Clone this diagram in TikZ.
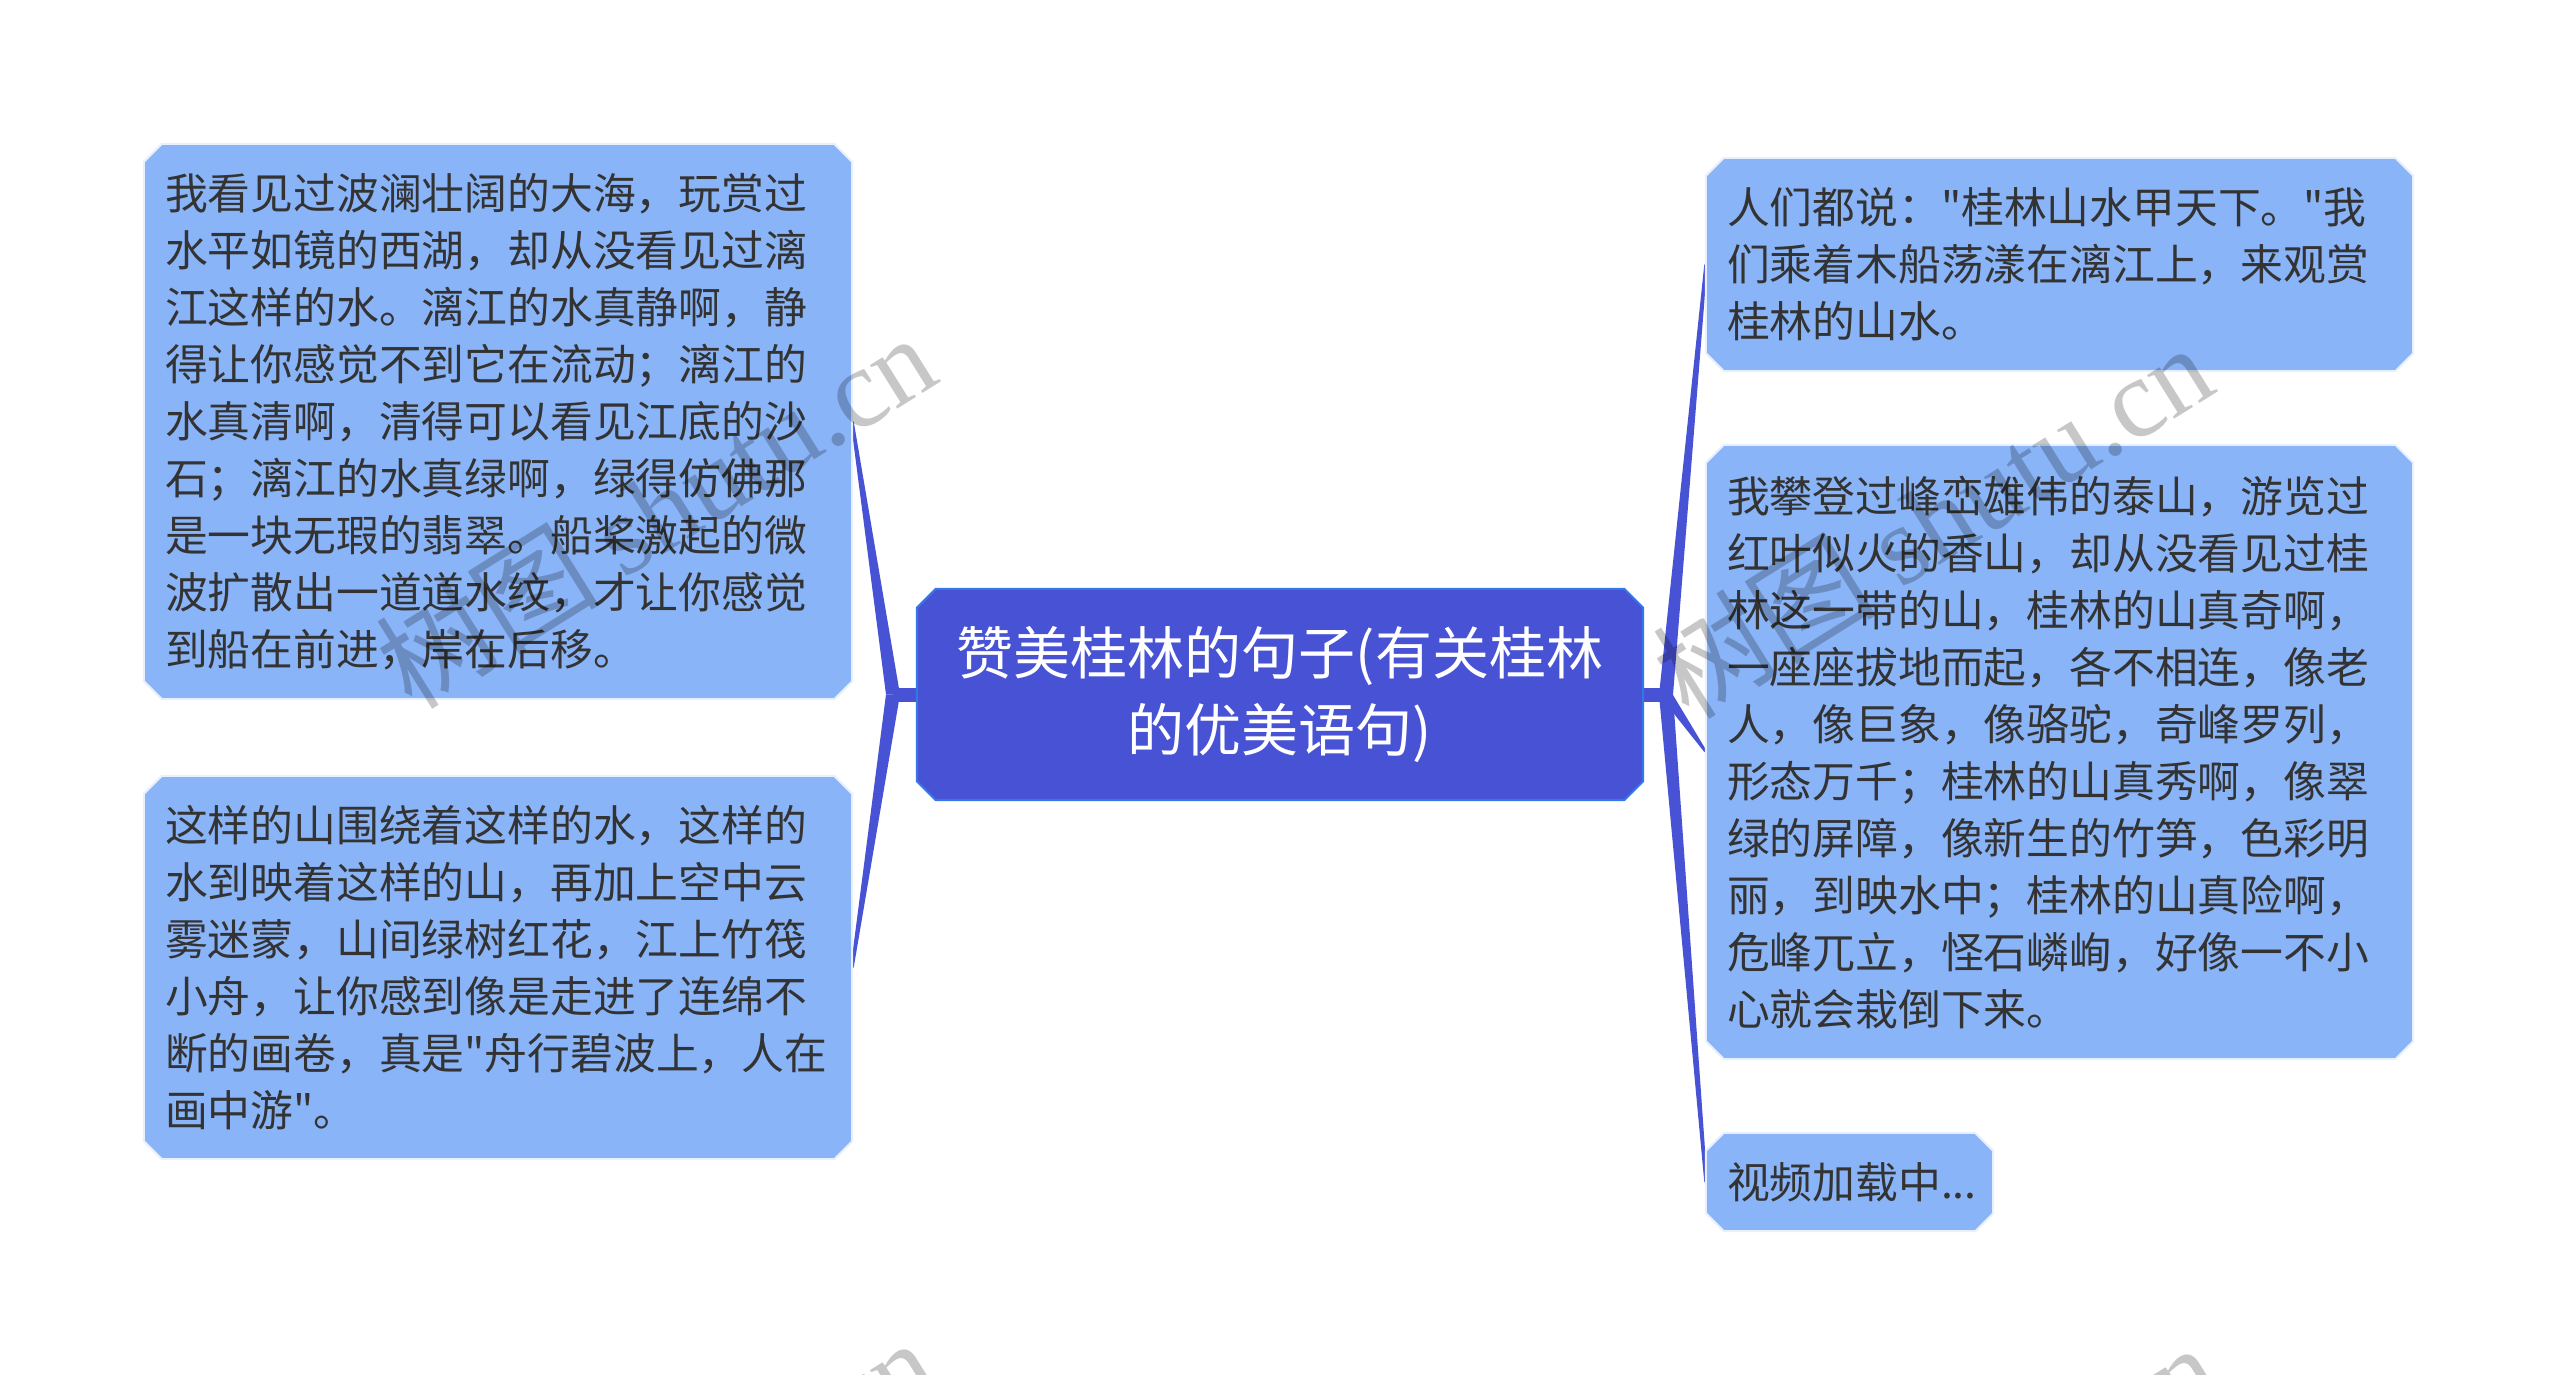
\documentclass[tikz,border=0pt]{standalone}
\usepackage{fontspec}
\newfontfamily\cjk{Noto Sans CJK SC}
\newfontfamily\wmserif{Liberation Serif}
\usetikzlibrary{calc,backgrounds}
\definecolor{hubfill}{RGB}{71,82,213}
\definecolor{hubline}{RGB}{52,120,232}
\definecolor{leaffill}{RGB}{138,180,248}
\definecolor{leafline}{RGB}{232,240,254}
\definecolor{txt}{RGB}{51,51,51}
\tikzset{
  hubbox/.style={rectangle, inner sep=0pt, text=white, align=center,
    font={\cjk\fontsize{57}{77}\selectfont}},
  leafbox/.style={rectangle, inner sep=0pt, text=txt, align=left,
    font={\cjk\fontsize{42.8}{57}\selectfont}},
  hubshape/.style={fill=hubfill, draw=hubline, line width=2pt},
  leafshape/.style={fill=leaffill, draw=leafline, line width=2pt},
  conn/.style={fill=hubfill},
  wm/.style={rotate=32, text=black, opacity=0.22, inner sep=0pt,
    font={\cjk\fontsize{112}{112}\selectfont}}
}
% chamfered outline around a named node: #1 style, #2 node name, #3 chamfer
\newcommand\chbox[3]{%
  \path[#1] ($(#2.north west)+(#3,0)$) -- ($(#2.north east)+(-#3,0)$)
    -- ($(#2.north east)+(0,#3)$) -- ($(#2.south east)+(0,-#3)$)
    -- ($(#2.south east)+(-#3,0)$) -- ($(#2.south west)+(#3,0)$)
    -- ($(#2.south west)+(0,-#3)$) -- ($(#2.north west)+(0,#3)$) -- cycle;}
\begin{document}
\begin{tikzpicture}[x=1pt,y=-1pt]
\useasboundingbox (0,0) rectangle (2560,1375);

% junction points
\coordinate (JL) at (893,694.5);
\coordinate (JR) at (1666,695);

% central topic
\node[hubbox, minimum width=726pt, minimum height=211pt] (hub) at (1280,694.5)
  {赞美桂林的句子(有关桂林\\的优美语句)};

% leaves
\node[leafbox, minimum width=708pt, minimum height=555pt, text width=666pt] (lt) at (498,421.5)
  {我看见过波澜壮阔的大海，玩赏过\\水平如镜的西湖，却从没看见过漓\\江这样的水。漓江的水真静啊，静\\得让你感觉不到它在流动；漓江的\\水真清啊，清得可以看见江底的沙\\石；漓江的水真绿啊，绿得仿佛那\\是一块无瑕的翡翠。船桨激起的微\\波扩散出一道道水纹，才让你感觉\\到船在前进，岸在后移。};
\node[leafbox, minimum width=708pt, minimum height=383pt, text width=666pt] (lb) at (498,967.5)
  {这样的山围绕着这样的水，这样的\\水到映着这样的山，再加上空中云\\雾迷蒙，山间绿树红花，江上竹筏\\小舟，让你感到像是走进了连绵不\\断的画卷，真是"舟行碧波上，人在\\画中游"。};
\node[leafbox, minimum width=707pt, minimum height=213pt, text width=665pt] (rt) at (2059.5,264.5)
  {人们都说："桂林山水甲天下。"我\\们乘着木船荡漾在漓江上，来观赏\\桂林的山水。};
\node[leafbox, minimum width=707pt, minimum height=614pt, text width=665pt] (rm) at (2059.5,752)
  {我攀登过峰峦雄伟的泰山，游览过\\红叶似火的香山，却从没看见过桂\\林这一带的山，桂林的山真奇啊，\\一座座拔地而起，各不相连，像老\\人，像巨象，像骆驼，奇峰罗列，\\形态万千；桂林的山真秀啊，像翠\\绿的屏障，像新生的竹笋，色彩明\\丽，到映水中；桂林的山真险啊，\\危峰兀立，怪石嶙峋，好像一不小\\心就会栽倒下来。};
\node[leafbox, minimum width=287pt, minimum height=98pt, text width=245pt] (rb) at (1849.5,1182)
  {视频加载中...};

\begin{scope}[on background layer]
  % connectors
  \fill[conn] ($(JL)+(0,-7)$) rectangle ($(hub.west)+(2,7)$);
  \fill[conn] ($(JR)+(0,-7)$) rectangle ($(hub.east)+(-2,7)$);
  \foreach \n in {lt,lb}{
    \fill[conn] ($(JL)+(7,0)$) -- ($(\n.east)+(1.5,0)$) -- ($(\n.east)+(-1.5,0)$) -- ($(JL)+(-7,0)$) -- cycle;
  }
  \foreach \n in {rt,rm,rb}{
    \fill[conn] ($(JR)+(7,0)$) -- ($(\n.west)+(1.5,0)$) -- ($(\n.west)+(-1.5,0)$) -- ($(JR)+(-7,0)$) -- cycle;
  }
  % box shapes
  \chbox{hubshape}{hub}{19}
  \chbox{leafshape}{lt}{18}
  \chbox{leafshape}{lb}{18}
  \chbox{leafshape}{rt}{18}
  \chbox{leafshape}{rm}{18}
  \chbox{leafshape}{rb}{18}
\end{scope}

% watermarks
\begin{scope}
  \clip (0,0) rectangle (2560,1375);
  \node[wm] (wm1) at (655,510) {树图 {\wmserif shutu.cn}};
  \node[wm] (wm2) at (1932,520) {树图 {\wmserif shutu.cn}};
  \node[wm] (wm3) at (655,1515) {树图 {\wmserif shutu.cn}};
  \node[wm] (wm4) at (1938,1520) {树图 {\wmserif shutu.cn}};
\end{scope}
\end{tikzpicture}
\end{document}
